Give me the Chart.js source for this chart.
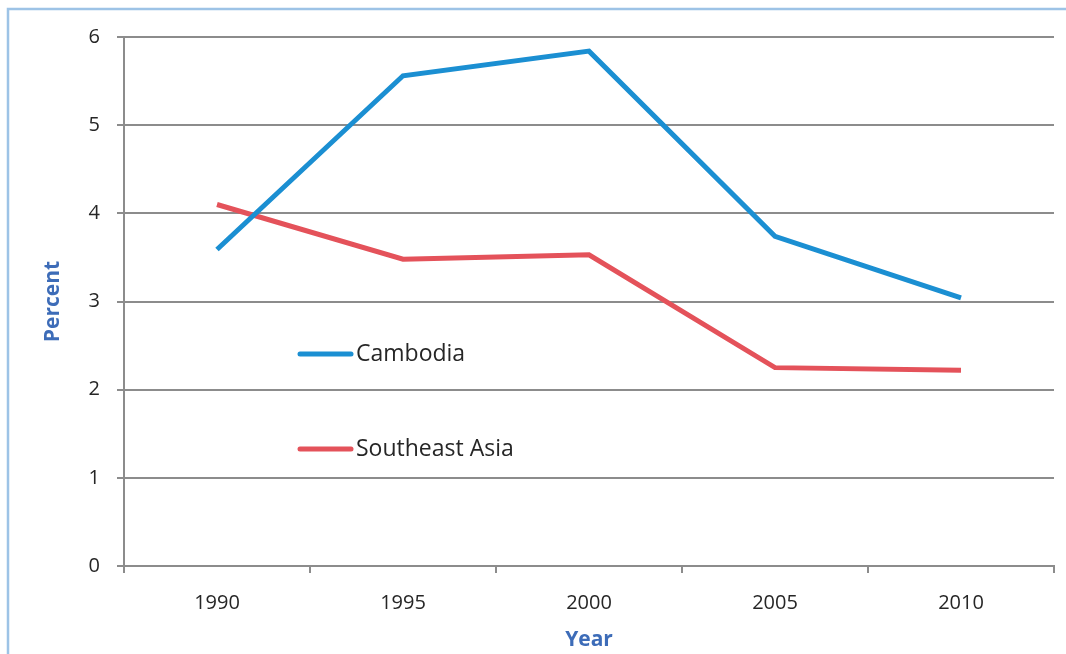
<!DOCTYPE html>
<html>
<head>
<meta charset="utf-8">
<script src="https://cdn.jsdelivr.net/npm/chart.js@4"></script>
<style>
  html, body { margin: 0; padding: 0; background: #fff; }
  #wrap { width: 1066px; height: 654px; }
</style>
</head>
<body>
<div id="wrap"><canvas id="myChart" width="1066" height="654"></canvas></div>
<script>
// values
const years = ["1990", "1995", "2000", "2005", "2010"];
const cambodia = [3.59, 5.56, 5.84, 3.74, 3.04];
const southeastAsia = [4.10, 3.48, 3.53, 2.25, 2.22];

const blue = "#1b8fd2";
const red = "#e4525a";
const axisGrey = "#8c8c8c";
const font = "'Open Sans', sans-serif";

// frame + legend drawn inside the plot like the original
const extras = {
  id: "extras",
  beforeDraw(chart) {
    const ctx = chart.ctx;
    ctx.save();
    ctx.strokeStyle = "#9dc3e6";
    ctx.lineWidth = 2.5;
    ctx.beginPath();
    ctx.moveTo(8, 654);
    ctx.lineTo(8, 9);
    ctx.lineTo(1066, 9);
    ctx.stroke();
    ctx.restore();
  },
  afterDraw(chart) {
    const ctx = chart.ctx;
    const items = [
      { text: "Cambodia", color: blue, y: 354 },
      { text: "Southeast Asia", color: red, y: 449 }
    ];
    ctx.save();
    items.forEach((it) => {
      ctx.strokeStyle = it.color;
      ctx.lineWidth = 5;
      ctx.lineCap = "round";
      ctx.beginPath();
      ctx.moveTo(300, it.y);
      ctx.lineTo(351, it.y);
      ctx.stroke();
      ctx.fillStyle = "#262626";
      ctx.font = "23px " + font;
      ctx.textBaseline = "middle";
      ctx.fillText(it.text, 356, it.y);
    });
    ctx.restore();
  }
};

new Chart(document.getElementById("myChart"), {
  type: "line",
  data: {
    labels: years,
    datasets: [
      {
        label: "Cambodia",
        data: cambodia,
        borderColor: blue,
        backgroundColor: blue,
        borderWidth: 5,
        pointRadius: 0,
        tension: 0,
        fill: false
      },
      {
        label: "Southeast Asia",
        data: southeastAsia,
        borderColor: red,
        backgroundColor: red,
        borderWidth: 5,
        pointRadius: 0,
        tension: 0,
        fill: false
      }
    ]
  },
  options: {
    responsive: false,
    animation: false,
    devicePixelRatio: 1,
    layout: { padding: { top: 37, right: 12, left: 0, bottom: 0 } },
    plugins: {
      legend: { display: false },
      tooltip: { enabled: false }
    },
    scales: {
      x: {
        offset: true,
        afterFit: (scale) => { scale.height = 88; },
        grid: {
          offset: true,
          drawOnChartArea: false,
          color: axisGrey,
          lineWidth: 2,
          tickLength: 7
        },
        border: { color: axisGrey, width: 2 },
        ticks: {
          color: "#262626",
          font: { family: font, size: 20 },
          padding: 18,
          maxRotation: 0
        },
        title: {
          display: true,
          text: "Year",
          color: "#3d6cb8",
          font: { family: font, size: 21, weight: "bold" },
          padding: { top: 0, bottom: 1 }
        }
      },
      y: {
        min: 0,
        max: 6,
        afterFit: (scale) => { scale.width = 124; },
        grid: {
          color: axisGrey,
          lineWidth: 2,
          tickLength: 7
        },
        border: { color: axisGrey, width: 2 },
        ticks: {
          stepSize: 1,
          color: "#262626",
          font: { family: font, size: 20 },
          padding: 17
        },
        title: {
          display: true,
          text: "Percent",
          color: "#3d6cb8",
          font: { family: font, size: 21, weight: "bold" },
          padding: { top: 40, bottom: 0 }
        }
      }
    }
  },
  plugins: [extras]
});
</script>
</body>
</html>
